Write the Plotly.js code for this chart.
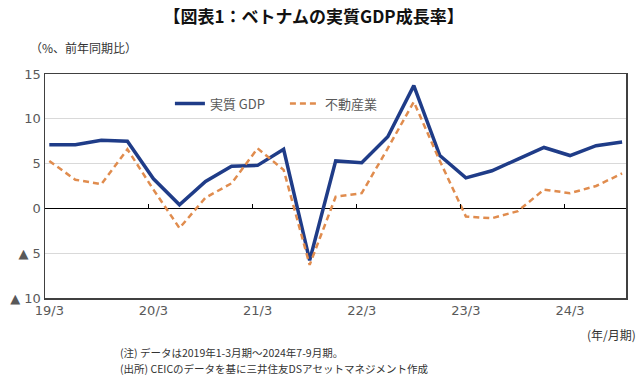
<!DOCTYPE html>
<html>
<head>
<meta charset="utf-8">
<script src="https://cdn.plot.ly/plotly-3.0.1.min.js"></script>
<style>html,body{margin:0;padding:0;background:#fff;}#chart{width:640px;height:381px;}</style>
</head>
<body>
<div id="chart"></div>
<script>
const quarters = ["19/3","19/6","19/9","19/12","20/3","20/6","20/9","20/12","21/3","21/6","21/9","21/12","22/3","22/6","22/9","22/12","23/3","23/6","23/9","23/12","24/3","24/6","24/9"];
const gdp = [7.1, 7.1, 7.6, 7.5, 3.3, 0.4, 3.0, 4.7, 4.8, 6.6, -5.8, 5.3, 5.1, 8.0, 13.7, 5.9, 3.4, 4.2, 5.5, 6.8, 5.9, 7.0, 7.4];
const realEstate = [5.3, 3.2, 2.7, 6.6, 2.1, -2.2, 1.2, 2.8, 6.7, 4.3, -6.3, 1.3, 1.7, 6.7, 11.9, 5.3, -0.9, -1.1, -0.3, 2.1, 1.7, 2.5, 3.9];
const xTickLabels = ["19/3","20/3","21/3","22/3","23/3","24/3"];
const yTickVals = [-10, -5, 0, 5, 10, 15];
const yTickText = ["▲ 10", "▲ 5", "0", "5", "10", "15"];
const seriesNames = ["実質 GDP", "不動産業"];

const tickFont = {family: "DejaVu Sans, Verdana, sans-serif", size: 13, color: "#595959"};
const jp = "Noto Sans CJK JP, sans-serif";

const traces = [
  {x: quarters, y: gdp, type: "scatter", mode: "lines", name: seriesNames[0],
   line: {color: "#1F3C88", width: 3.5}},
  {x: quarters, y: realEstate, type: "scatter", mode: "lines", name: seriesNames[1],
   line: {color: "#E08C4E", width: 2.5, dash: "6px,4px"}},
  {x: [], y: [], xaxis: "x2", yaxis: "y", type: "scatter", mode: "lines", showlegend: false, hoverinfo: "skip"}
];

const layout = {
  width: 640, height: 381,
  margin: {l: 45, r: 14, t: 74, b: 83},
  paper_bgcolor: "#fff", plot_bgcolor: "#fff",
  showlegend: true,
  legend: {orientation: "h", x: 0.215, y: 0.868, xanchor: "left", yanchor: "middle",
           font: {family: jp, size: 13, color: "#595959"}, bgcolor: "rgba(0,0,0,0)",
           entrywidth: 70, entrywidthmode: "pixels"},
  title: {text: "【図表1：ベトナムの実質GDP成長率】", x: 0.49, xanchor: "center", y: 0.955, yanchor: "middle",
          font: {family: jp, size: 17, color: "#111", weight: "bold"}},
  xaxis: {type: "category", range: [-0.165, 22.15], tickvals: xTickLabels, ticktext: xTickLabels,
          ticks: "", showgrid: false, zeroline: false, showline: true, mirror: true,
          linecolor: "#404040", linewidth: 1.5, tickfont: tickFont, automargin: false},
  xaxis2: {overlaying: "x", anchor: "free", position: 0.4, side: "bottom", range: [-0.165, 22.15],
           tickvals: [3.8, 7.8, 11.8, 15.8, 19.8], ticks: "inside", ticklen: 4, tickwidth: 1.2,
           tickcolor: "#000", showticklabels: false, showgrid: false, zeroline: false, showline: false},
  yaxis: {range: [-10, 15], tickvals: yTickVals, ticktext: yTickText, ticks: "",
          showgrid: true, gridcolor: "#D9D9D9", gridwidth: 1, zeroline: true, zerolinecolor: "#000",
          zerolinewidth: 1.2, showline: true, mirror: true, linecolor: "#404040", linewidth: 1.5,
          tickfont: tickFont, automargin: false},
  annotations: [
    {text: "（%、前年同期比）", xref: "paper", yref: "paper", x: -0.03, y: 1.12, xanchor: "left", yanchor: "middle",
     showarrow: false, font: {family: jp, size: 12, color: "#333"}, xshift: 0},
    {text: "(年/月期)", xref: "paper", yref: "paper", x: 1, y: -0.165, xanchor: "right", yanchor: "middle",
     showarrow: false, font: {family: jp, size: 12, color: "#333"}, xshift: 12},
    {text: "(注) データは2019年1-3月期～2024年7-9月期。", xref: "paper", yref: "paper", x: 0.126, y: -0.245,
     xanchor: "left", yanchor: "middle", showarrow: false, font: {family: jp, size: 10.5, color: "#333"}},
    {text: "(出所) CEICのデータを基に三井住友DSアセットマネジメント作成", xref: "paper", yref: "paper", x: 0.126, y: -0.315,
     xanchor: "left", yanchor: "middle", showarrow: false, font: {family: jp, size: 10.5, color: "#333"}}
  ]
};

Plotly.newPlot("chart", traces, layout, {displayModeBar: false, staticPlot: true});
</script>
</body>
</html>
